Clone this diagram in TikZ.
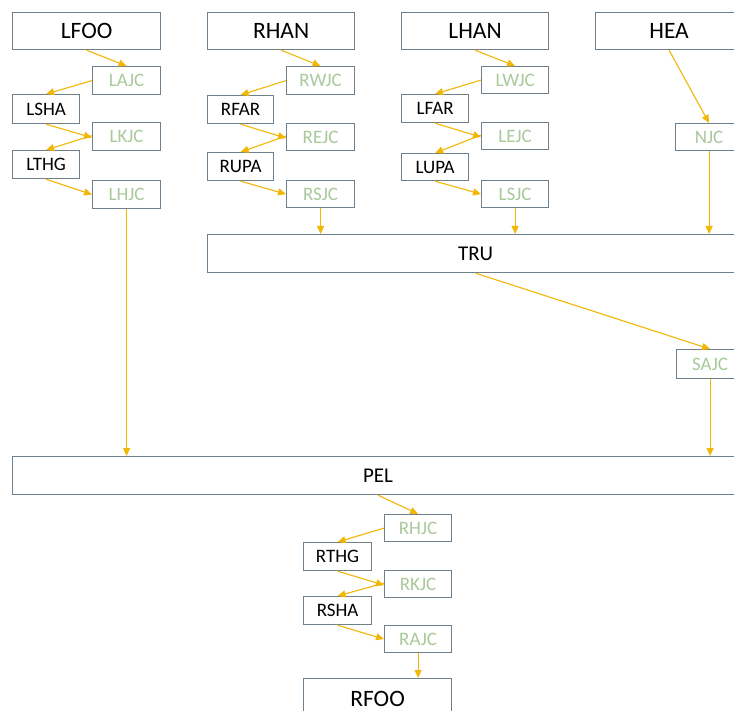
\documentclass[tikz,border=0pt]{standalone}
\usepackage{fontspec}
\setmainfont{Carlito}
\usetikzlibrary{arrows.meta}
\definecolor{bordc}{HTML}{6E7F8D}
\definecolor{arrc}{HTML}{F2B705}
\definecolor{grn}{HTML}{A9C99B}
\tikzset{
  bigbox/.style={draw=bordc, line width=1.2pt, fill=white, inner sep=0pt, anchor=north west, font=\fontsize{23.5}{26}\selectfont, text=black},
  smallbox/.style={draw=bordc, line width=1.2pt, fill=white, inner sep=0pt, anchor=north west, font=\fontsize{19}{21}\selectfont, text=black},
  jbox/.style={smallbox, text=grn},
  conn/.style={draw=arrc, line width=1.1pt, -{Triangle[length=8pt,width=7pt]}},
}
\begin{document}
\begin{tikzpicture}[x=1pt,y=-1pt]
\useasboundingbox (0,0) rectangle (734,711);
\clip (0,0) rectangle (734,711);
\fill[white] (0,0) rectangle (734,711);
% column 1
\node[bigbox, minimum width=148pt, minimum height=37pt] (LFOO) at (12,12) {LFOO};
\node[jbox, minimum width=68pt, minimum height=28pt] (LAJC) at (92,66) {LAJC};
\node[smallbox, minimum width=67pt, minimum height=29pt] (LSHA) at (12,94) {LSHA};
\node[jbox, minimum width=68pt, minimum height=28pt] (LKJC) at (92,122) {LKJC};
\node[smallbox, minimum width=67pt, minimum height=28pt] (LTHG) at (12,150) {LTHG};
\node[jbox, minimum width=68pt, minimum height=28pt] (LHJC) at (92,180) {LHJC};
% column 2
\node[bigbox, minimum width=147pt, minimum height=37pt] (RHAN) at (207,12) {RHAN};
\node[jbox, minimum width=68pt, minimum height=28pt] (RWJC) at (286,66) {RWJC};
\node[smallbox, minimum width=66pt, minimum height=28pt] (RFAR) at (207,95) {RFAR};
\node[jbox, minimum width=68pt, minimum height=27pt] (REJC) at (286,123) {REJC};
\node[smallbox, minimum width=66pt, minimum height=28pt] (RUPA) at (207,152) {RUPA};
\node[jbox, minimum width=68pt, minimum height=27pt] (RSJC) at (286,180) {RSJC};
% column 3
\node[bigbox, minimum width=147pt, minimum height=37pt] (LHAN) at (401,12) {LHAN};
\node[jbox, minimum width=67pt, minimum height=27pt] (LWJC) at (481,66) {LWJC};
\node[smallbox, minimum width=67pt, minimum height=28pt] (LFAR) at (401,94) {LFAR};
\node[jbox, minimum width=67pt, minimum height=27pt] (LEJC) at (481,122) {LEJC};
\node[smallbox, minimum width=67pt, minimum height=27pt] (LUPA) at (401,153) {LUPA};
\node[jbox, minimum width=67pt, minimum height=27pt] (LSJC) at (481,180) {LSJC};
% column 4
\node[bigbox, minimum width=147pt, minimum height=37pt] (HEA) at (595,12) {HEA};
\node[jbox, minimum width=67pt, minimum height=27pt] (NJC) at (675,123) {NJC};
% wide bars
\node[bigbox, minimum width=536pt, minimum height=38pt, font=\fontsize{21}{24}\selectfont] (TRU) at (207,234) {TRU};
\node[jbox, minimum width=67pt, minimum height=29pt] (SAJC) at (676,349) {SAJC};
\node[bigbox, minimum width=731pt, minimum height=38pt, font=\fontsize{21}{24}\selectfont] (PEL) at (12,456) {PEL};
% bottom column
\node[jbox, minimum width=67pt, minimum height=27pt] (RHJC) at (384,514) {RHJC};
\node[smallbox, minimum width=68pt, minimum height=28pt] (RTHG) at (303,542) {RTHG};
\node[jbox, minimum width=67pt, minimum height=27pt] (RKJC) at (384,570) {RKJC};
\node[smallbox, minimum width=68pt, minimum height=28pt] (RSHA) at (303,596) {RSHA};
\node[jbox, minimum width=67pt, minimum height=27pt] (RAJC) at (384,625) {RAJC};
\node[bigbox, minimum width=148pt, minimum height=40pt] (RFOO) at (303,678) {RFOO};
% connectors column 1
\draw[conn] (LFOO.south) -- (LAJC.north);
\draw[conn] (LAJC.west) -- (LSHA.north);
\draw[conn] (LSHA.south) -- ([yshift=-1pt]LKJC.west);
\draw[conn] ([yshift=1pt]LKJC.west) -- (LTHG.north);
\draw[conn] (LTHG.south) -- (LHJC.west);
\draw[conn] (LHJC.south) -- (LHJC.south |- PEL.north);
% column 2
\draw[conn] (RHAN.south) -- (RWJC.north);
\draw[conn] (RWJC.west) -- (RFAR.north);
\draw[conn] (RFAR.south) -- ([yshift=-1pt]REJC.west);
\draw[conn] ([yshift=1pt]REJC.west) -- (RUPA.north);
\draw[conn] (RUPA.south) -- (RSJC.west);
\draw[conn] (RSJC.south) -- (RSJC.south |- TRU.north);
% column 3
\draw[conn] (LHAN.south) -- (LWJC.north);
\draw[conn] (LWJC.west) -- (LFAR.north);
\draw[conn] (LFAR.south) -- ([yshift=-1pt]LEJC.west);
\draw[conn] ([yshift=1pt]LEJC.west) -- (LUPA.north);
\draw[conn] (LUPA.south) -- (LSJC.west);
\draw[conn] (LSJC.south) -- (LSJC.south |- TRU.north);
% column 4
\draw[conn] (HEA.south) -- (NJC.north);
\draw[conn] (NJC.south) -- (NJC.south |- TRU.north);
\draw[conn] (TRU.south) -- (SAJC.north);
\draw[conn] (SAJC.south) -- (SAJC.south |- PEL.north);
% bottom column
\draw[conn] (PEL.south) -- (RHJC.north);
\draw[conn] (RHJC.west) -- (RTHG.north);
\draw[conn] (RTHG.south) -- ([yshift=-1pt]RKJC.west);
\draw[conn] ([yshift=1pt]RKJC.west) -- (RSHA.north);
\draw[conn] (RSHA.south) -- (RAJC.west);
\draw[conn] (RAJC.south) -- (RAJC.south |- RFOO.north);
\end{tikzpicture}
\end{document}
